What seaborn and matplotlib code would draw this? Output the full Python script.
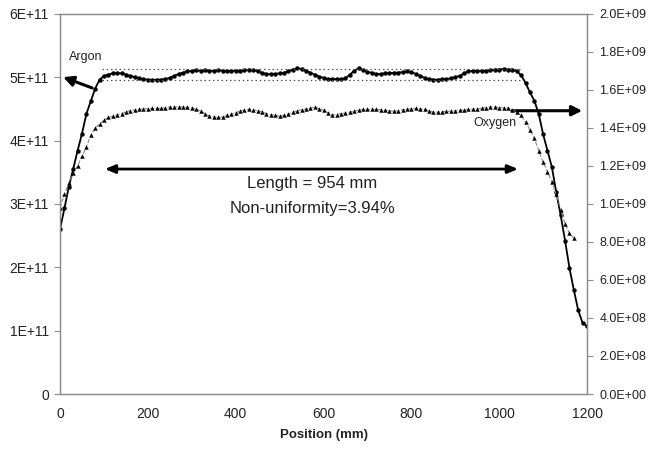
import numpy as np
import pandas as pd
import matplotlib
matplotlib.use("Agg")
import matplotlib.pyplot as plt
import seaborn as sns
from matplotlib.ticker import FuncFormatter

# Argon density (left axis, x1e11) every 10 mm from 0 to 1200
argon_pos = list(range(0, 1201, 10))
argon_val = [2.60, 2.93, 3.27, 3.55, 3.84, 4.11, 4.42, 4.62, 4.82, 4.96,
             5.02, 5.04, 5.06, 5.06, 5.06, 5.04, 5.02, 5.00, 4.98, 4.97,
             4.96, 4.955, 4.96, 4.96, 4.97, 4.99, 5.02, 5.05, 5.07, 5.09,
             5.10, 5.11, 5.10, 5.11, 5.10, 5.10, 5.11, 5.10, 5.09, 5.10,
             5.10, 5.10, 5.11, 5.12, 5.11, 5.09, 5.07, 5.05, 5.05, 5.05,
             5.06, 5.07, 5.09, 5.12, 5.14, 5.13, 5.10, 5.07, 5.04, 5.01,
             4.99, 4.97, 4.97, 4.97, 4.97, 4.98, 5.04, 5.10, 5.14, 5.11,
             5.08, 5.07, 5.05, 5.05, 5.06, 5.06, 5.07, 5.07, 5.08, 5.09,
             5.08, 5.05, 5.02, 4.99, 4.97, 4.96, 4.96, 4.97, 4.97, 4.98,
             5.00, 5.02, 5.06, 5.09, 5.10, 5.10, 5.10, 5.10, 5.11, 5.12,
             5.12, 5.13, 5.12, 5.12, 5.09, 5.03, 4.91, 4.76, 4.63, 4.42,
             4.10, 3.84, 3.58, 3.18, 2.82, 2.42, 1.99, 1.64, 1.32, 1.12,
             1.07]

# Oxygen density (right axis, x1e9) every 10 mm from 0 to 1170
oxygen_pos = list(range(0, 1171, 10))
oxygen_val = [0.98, 1.05, 1.11, 1.16, 1.20, 1.25, 1.30, 1.36, 1.40, 1.42,
              1.44, 1.455, 1.46, 1.47, 1.475, 1.485, 1.49, 1.495, 1.497, 1.50,
              1.50, 1.502, 1.502, 1.502, 1.505, 1.51, 1.51, 1.51, 1.51, 1.508,
              1.505, 1.498, 1.488, 1.475, 1.463, 1.458, 1.455, 1.457, 1.465, 1.472,
              1.48, 1.488, 1.494, 1.497, 1.495, 1.49, 1.485, 1.475, 1.47, 1.465,
              1.462, 1.465, 1.473, 1.482, 1.49, 1.495, 1.50, 1.503, 1.51, 1.50,
              1.493, 1.48, 1.468, 1.47, 1.475, 1.477, 1.483, 1.488, 1.493, 1.497,
              1.497, 1.497, 1.497, 1.495, 1.493, 1.49, 1.488, 1.49, 1.495, 1.498,
              1.50, 1.502, 1.50, 1.497, 1.49, 1.482, 1.483, 1.485, 1.486, 1.488,
              1.49, 1.492, 1.494, 1.497, 1.498, 1.50, 1.502, 1.506, 1.51, 1.511,
              1.507, 1.505, 1.503, 1.495, 1.482, 1.465, 1.43, 1.39, 1.345, 1.28,
              1.22, 1.17, 1.115, 1.05, 0.97, 0.895, 0.845, 0.82]

# uniform region markers
region_start = 96
region_end = 1050
argon_max = 5.13e11
argon_min = 4.95e11

argon = pd.DataFrame({"pos": argon_pos, "val": np.array(argon_val) * 1e11})
oxygen = pd.DataFrame({"pos": oxygen_pos, "val": np.array(oxygen_val) * 1e9})

sns.set_style("white")
plt.rcParams["font.family"] = ["Liberation Sans", "DejaVu Sans"]
txt = "#222222"
spine_c = "#8c8c8c"

fig = plt.figure(figsize=(6.49, 4.5), dpi=100)
ax = fig.add_axes([0.0925, 0.1244, 0.812, 0.845])
ax2 = ax.twinx()

sns.lineplot(data=argon, x="pos", y="val", ax=ax, color="black", linewidth=1.3,
             marker="o", markersize=3.2, markeredgewidth=0)
sns.lineplot(data=oxygen, x="pos", y="val", ax=ax2, color="#888888", linewidth=0.8,
             linestyle="--", marker="^", markersize=3.2, markerfacecolor="black",
             markeredgecolor="black", markeredgewidth=0)

# dotted bounds of the uniform zone
for lvl in (argon_max, argon_min):
    ax.plot([region_start, region_end], [lvl, lvl], color="#555555",
            linestyle=(0, (1.2, 2.2)), linewidth=0.9)

ax.set_xlim(0, 1200)
ax.set_ylim(0, 6e11)
ax2.set_ylim(0, 2e9)
ax.set_xticks(range(0, 1201, 200))
ax.set_yticks(np.arange(0, 6.01e11, 1e11))
ax2.set_yticks(np.arange(0, 2.01e9, 2e8))
ax.yaxis.set_major_formatter(FuncFormatter(lambda v, p: "0" if v == 0 else f"{int(round(v / 1e11))}E+11"))
ax2.yaxis.set_major_formatter(FuncFormatter(lambda v, p: f"{v:.1E}"))

for a in (ax, ax2):
    for s in a.spines.values():
        s.set_color(spine_c)
        s.set_linewidth(0.9)
    a.set_ylabel("")
    a.grid(False)
ax.tick_params(axis="x", direction="in", length=4, color=spine_c, labelsize=10,
               labelcolor=txt, pad=9)
ax.tick_params(axis="y", direction="out", length=4, color=spine_c, labelsize=10,
               labelcolor=txt, pad=4)
ax2.tick_params(axis="y", direction="out", length=4, color=spine_c, labelsize=9,
                labelcolor=txt, pad=5)
ax.set_xlabel("Position (mm)", fontsize=9.5, fontweight="bold", color=txt, labelpad=6)

# annotations
ax.text(59, 5.31e11, "Argon", fontsize=9, color=txt, ha="center", va="center")
ax.annotate("", xy=(7, 5.0e11), xytext=(73, 4.83e11),
            arrowprops=dict(arrowstyle="-|>,head_length=0.6,head_width=0.3",
                            color="black", lw=2.2, shrinkA=0, shrinkB=0))
ax.text(990, 4.27e11, "Oxygen", fontsize=9, color=txt, ha="center", va="center")
ax.annotate("", xy=(1189, 4.47e11), xytext=(1029, 4.47e11),
            arrowprops=dict(arrowstyle="-|>,head_length=0.6,head_width=0.3",
                            color="black", lw=2.2, shrinkA=0, shrinkB=0))
ax.annotate("", xy=(102, 3.55e11), xytext=(1043, 3.55e11),
            arrowprops=dict(arrowstyle="<|-|>,head_length=0.6,head_width=0.25",
                            color="black", lw=2.0, shrinkA=0, shrinkB=0))
ax.text(574, 3.32e11, "Length = 954 mm", fontsize=12, color=txt, ha="center", va="center")
ax.text(574, 2.93e11, "Non-uniformity=3.94%", fontsize=12, color=txt, ha="center", va="center")

fig.savefig("out.png", dpi=100)
